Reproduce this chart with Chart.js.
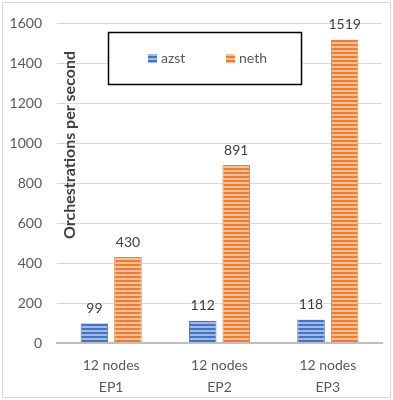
<!DOCTYPE html>
<html>
<head>
<meta charset="utf-8">
<script src="https://cdn.jsdelivr.net/npm/chart.js@4/dist/chart.umd.min.js"></script>
<style>
  html, body { margin: 0; padding: 0; background: #fff; }
  #wrap { width: 393px; height: 400px; }
</style>
</head>
<body>
<div id="wrap"><canvas id="chart" width="393" height="400"></canvas></div>
<script>
const categories = [["12 nodes", "EP1"], ["12 nodes", "EP2"], ["12 nodes", "EP3"]];
const azstValues = [99, 112, 118];
const nethValues = [430, 891, 1519];
const yTicks = [0, 200, 400, 600, 800, 1000, 1200, 1400, 1600];

const FONT = "Lato, 'Open Sans', sans-serif";

// striped fill like the office chart
function stripes(dark, light) {
  const c = document.createElement("canvas");
  c.width = 4;
  c.height = 4;
  const g = c.getContext("2d");
  g.fillStyle = light;
  g.fillRect(0, 0, 4, 4);
  g.fillStyle = dark;
  g.fillRect(0, 0, 4, 2);
  return g.createPattern(c, "repeat");
}

const bluePattern = stripes("#4472C4", "#A3B9E2");
const orangePattern = stripes("#ED7D31", "#F7C09A");

// frame + white background
const framePlugin = {
  id: "frame",
  beforeDraw(chart) {
    const ctx = chart.ctx;
    ctx.save();
    ctx.fillStyle = "#fff";
    ctx.fillRect(0, 0, chart.width, chart.height);
    ctx.strokeStyle = "#D9D9D9";
    ctx.lineWidth = 1;
    ctx.strokeRect(2.5, 2.5, 388, 395);
    ctx.restore();
  }
};

// value labels above each bar
const valueLabels = {
  id: "valueLabels",
  afterDatasetsDraw(chart) {
    const ctx = chart.ctx;
    ctx.save();
    ctx.font = "14px " + FONT;
    ctx.fillStyle = "#404040";
    ctx.textAlign = "center";
    ctx.textBaseline = "middle";
    chart.data.datasets.forEach((ds, i) => {
      chart.getDatasetMeta(i).data.forEach((bar, j) => {
        ctx.fillText(ds.data[j], bar.x, bar.y - 15);
      });
    });
    ctx.restore();
  }
};

// axis title sits inside the plot, plus boxed legend
const extras = {
  id: "extras",
  afterDraw(chart) {
    const ctx = chart.ctx;
    ctx.save();
    ctx.translate(70, 145);
    ctx.rotate(-Math.PI / 2);
    ctx.font = "bold 16px " + FONT;
    ctx.fillStyle = "#404040";
    ctx.textAlign = "center";
    ctx.textBaseline = "middle";
    ctx.fillText("Orchestrations per second", 0, 0);
    ctx.restore();

    ctx.save();
    ctx.fillStyle = "#fff";
    ctx.fillRect(108, 32, 194, 53);
    ctx.strokeStyle = "#000";
    ctx.lineWidth = 1.5;
    ctx.strokeRect(108.5, 32.5, 193, 52);
    ctx.font = "14px " + FONT;
    ctx.textBaseline = "middle";
    const items = [
      { label: "azst", fill: bluePattern, x: 148 },
      { label: "neth", fill: orangePattern, x: 226 }
    ];
    items.forEach(it => {
      ctx.fillStyle = it.fill;
      ctx.fillRect(it.x, 54, 9, 9);
      ctx.fillStyle = "#595959";
      ctx.fillText(it.label, it.x + 13, 58.5);
    });
    ctx.restore();
  }
};

new Chart(document.getElementById("chart"), {
  type: "bar",
  data: {
    labels: categories,
    datasets: [
      {
        label: "azst",
        data: azstValues,
        backgroundColor: bluePattern,
        borderColor: "#4472C4",
        borderWidth: { left: 1, right: 1, top: 0, bottom: 0 }
      },
      {
        label: "neth",
        data: nethValues,
        backgroundColor: orangePattern,
        borderColor: "#ED7D31",
        borderWidth: { left: 1, right: 1, top: 0, bottom: 0 }
      }
    ]
  },
  options: {
    responsive: false,
    animation: false,
    layout: { padding: { top: 23, left: 0, right: 11, bottom: 0 } },
    datasets: {
      bar: { categoryPercentage: 0.62, barPercentage: 0.82 }
    },
    plugins: {
      legend: { display: false },
      tooltip: { enabled: false }
    },
    scales: {
      x: {
        grid: { display: false },
        border: { display: true, color: "#BFBFBF", width: 2 },
        ticks: {
          color: "#595959",
          font: { family: FONT, size: 14, lineHeight: 1.6 },
          padding: 3,
          maxRotation: 0
        },
        afterFit(scale) { scale.height = 57; }
      },
      y: {
        min: 0,
        max: 1600,
        afterBuildTicks(scale) { scale.ticks = yTicks.map(v => ({ value: v })); },
        grid: { color: "#D9D9D9", lineWidth: 1, drawTicks: false },
        border: { display: false },
        ticks: {
          color: "#595959",
          font: { family: FONT, size: 14 },
          padding: 15,
          callback: v => String(v)
        },
        afterFit(scale) { scale.width = 57; }
      }
    }
  },
  plugins: [framePlugin, valueLabels, extras]
});
</script>
</body>
</html>
